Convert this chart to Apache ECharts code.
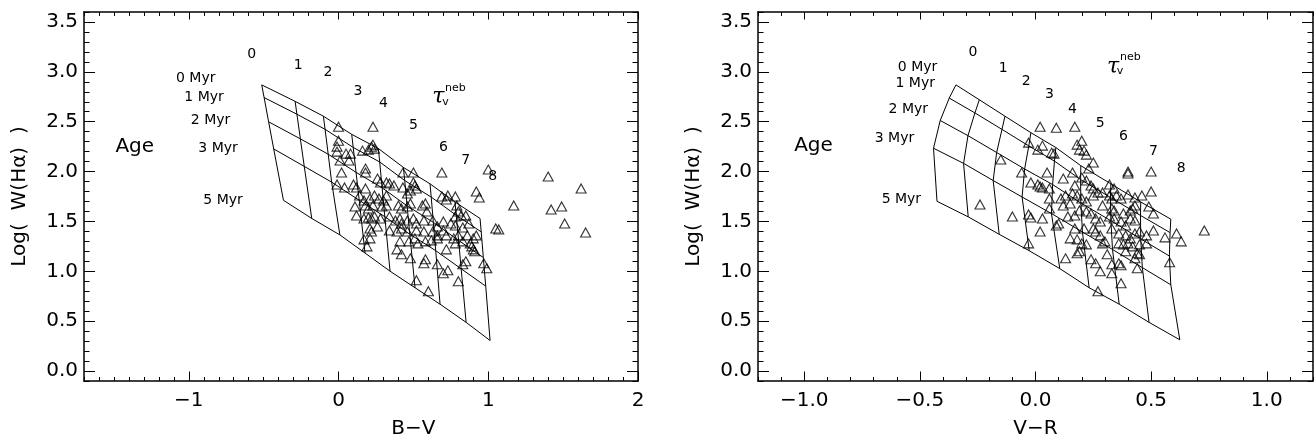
<!DOCTYPE html>
<html><head><meta charset="utf-8">
<script src="https://cdn.jsdelivr.net/npm/echarts@6/dist/echarts.min.js"></script>
<style>html,body{margin:0;padding:0;background:#fff}#c{width:1314px;height:444px}</style>
</head><body><div id="c"></div>
<script>
// ---------------- data ----------------
const bvTickLabels = ['\u22121', '0', '1', '2'];
const vrTickLabels = ['\u22121.0', '\u22120.5', '0.0', '0.5', '1.0'];
const yTickLabels = ['0.0', '0.5', '1.0', '1.5', '2.0', '2.5', '3.0', '3.5'];

// observed points, left panel (B-V, log W(Ha))
const bvPoints = [
[0.00,2.45],[0.23,2.45],[0.00,2.31],[-0.01,2.25],[-0.01,2.20],[0.23,2.27],[0.22,2.25],[0.20,2.22],[0.24,2.23],[0.05,2.18],[0.08,2.18],[0.16,2.21],[0.01,2.11],[0.07,2.11],[0.02,1.99],[0.18,2.03],[0.18,1.99],[0.43,1.99],[0.50,1.99],[0.69,1.99],[1.00,2.02],
[-0.01,1.87],[0.04,1.84],[0.10,1.87],[0.12,1.84],[0.18,1.83],[0.26,1.93],[0.28,1.89],[0.32,1.89],[0.34,1.88],[0.37,1.86],[0.43,1.84],[0.50,1.89],[0.51,1.86],[0.52,1.83],[0.48,1.81],[0.46,1.78],[0.69,1.75],[0.73,1.76],[0.78,1.75],[0.72,1.72],[0.92,1.80],[0.94,1.74],
[0.14,1.76],[0.17,1.71],[0.21,1.73],[0.24,1.76],[0.27,1.73],[0.30,1.71],[0.32,1.76],
[0.11,1.65],[0.18,1.66],[0.20,1.63],[0.23,1.66],[0.29,1.65],[0.32,1.66],[0.40,1.66],[0.42,1.63],[0.46,1.65],[0.48,1.68],[0.56,1.66],[0.58,1.68],[0.79,1.66],[0.80,1.60],[0.82,1.56],[0.78,1.55],[0.85,1.56],
[0.12,1.56],[0.17,1.53],[0.20,1.54],[0.22,1.53],[0.24,1.55],[0.28,1.53],[0.34,1.55],[0.38,1.51],[0.41,1.53],[0.42,1.48],[0.46,1.51],[0.50,1.53],[0.52,1.48],[0.57,1.51],[0.59,1.60],[0.63,1.51],[0.66,1.45],[0.70,1.50],[0.75,1.48],[0.78,1.46],[0.83,1.44],[0.87,1.48],
[0.22,1.40],[0.21,1.43],[0.26,1.45],[0.34,1.41],[0.39,1.40],[0.42,1.43],[0.46,1.40],[0.52,1.41],[0.57,1.40],[0.63,1.40],[0.66,1.36],[0.70,1.41],[0.72,1.36],[0.77,1.33],[0.80,1.36],[0.86,1.36],[0.90,1.33],[0.92,1.36],[1.05,1.43],[1.07,1.42],
[0.17,1.32],[0.21,1.33],[0.19,1.25],[0.41,1.30],[0.47,1.30],[0.51,1.33],[0.53,1.28],[0.58,1.30],[0.62,1.31],[0.66,1.33],[0.78,1.28],[0.83,1.30],[0.88,1.28],[0.89,1.25],[0.90,1.22],[0.91,1.20],
[0.39,1.22],[0.42,1.17],[0.48,1.13],[0.58,1.12],[0.57,1.08],[0.72,1.22],[0.66,1.07],[0.70,0.98],[0.73,1.01],[0.85,1.10],[0.83,1.07],[0.97,1.08],[0.99,1.03],[0.52,0.91],[0.60,0.80],[0.80,0.90],
[1.17,1.66],[1.40,1.95],[1.42,1.62],[1.49,1.65],[1.51,1.48],[1.62,1.83],[1.65,1.39]
];

// observed points, right panel (V-R, log W(Ha))
const vrPoints = [
[0.02,2.45],[0.09,2.44],[-0.03,2.29],[0.01,2.22],[0.03,2.26],[0.07,2.19],[0.08,2.18],[-0.15,2.12],[-0.06,1.99],[0.05,1.99],[-0.02,1.89],[0.01,1.87],[0.02,1.85],[0.03,1.84],[0.06,1.83],[0.06,1.73],[-0.24,1.67],[-0.10,1.55],[-0.03,1.57],[-0.02,1.54],[0.03,1.53],[0.06,1.63],[0.10,1.48],[0.09,1.46],[0.02,1.40],[-0.03,1.28],
[0.17,2.45],[0.20,2.31],[0.18,2.27],[0.19,2.22],[0.21,2.21],[0.22,2.17],[0.25,2.09],[0.23,2.03],[0.16,1.99],[0.12,1.93],[0.40,2.00],[0.40,1.98],[0.50,2.00],
[0.17,1.86],[0.20,1.94],[0.22,1.91],[0.24,1.86],[0.25,1.83],[0.27,1.79],[0.32,1.87],[0.34,1.83],
[0.16,1.78],[0.13,1.76],[0.11,1.73],[0.12,1.66],[0.15,1.68],[0.18,1.76],[0.20,1.73],[0.22,1.70],
[0.25,1.76],[0.29,1.79],[0.32,1.76],[0.33,1.73],[0.35,1.76],[0.37,1.73],[0.40,1.77],[0.43,1.74],[0.46,1.76],[0.50,1.80],
[0.29,1.66],[0.33,1.63],[0.34,1.61],[0.38,1.58],[0.41,1.61],[0.42,1.63],[0.43,1.66],[0.49,1.65],[0.51,1.58],
[0.14,1.55],[0.17,1.56],[0.19,1.61],[0.22,1.60],[0.24,1.58],[0.26,1.53],[0.28,1.50],
[0.32,1.55],[0.34,1.53],[0.37,1.50],[0.39,1.46],[0.41,1.53],[0.43,1.51],
[0.17,1.43],[0.21,1.43],[0.25,1.43],[0.26,1.40],[0.28,1.36],[0.30,1.30],
[0.33,1.43],[0.36,1.38],[0.39,1.36],[0.41,1.33],[0.43,1.38],[0.45,1.40],[0.48,1.36],[0.51,1.41],
[0.15,1.33],[0.18,1.32],[0.20,1.28],[0.22,1.27],[0.19,1.20],[0.18,1.18],
[0.29,1.28],[0.36,1.28],[0.38,1.27],[0.40,1.28],[0.42,1.25],[0.45,1.27],[0.48,1.28],
[0.39,1.20],[0.44,1.18],[0.45,1.17],
[0.56,1.34],[0.61,1.38],[0.63,1.30],[0.73,1.41],
[0.13,1.13],[0.24,1.12],[0.26,1.08],[0.28,1.00],[0.31,1.17],[0.33,1.07],[0.36,1.08],[0.37,1.06],[0.33,0.98],[0.44,1.03],[0.43,1.13],[0.37,0.88],[0.27,0.80],[0.58,1.09]
];

// model grid, left panel: one line per age, points for tau_v^neb = 0..8
const bvAge0Myr = [[-0.513,2.869],[-0.290,2.704],[-0.101,2.555],[0.088,2.373],[0.266,2.231],[0.433,2.042],[0.611,1.877],[0.778,1.695],[0.945,1.530]];
const bvAge1Myr = [[-0.497,2.742],[-0.278,2.575],[-0.090,2.424],[0.098,2.242],[0.275,2.096],[0.442,1.910],[0.619,1.744],[0.786,1.562],[0.953,1.395]];
const bvAge2Myr = [[-0.467,2.499],[-0.255,2.328],[-0.069,2.174],[0.117,1.992],[0.291,1.837],[0.458,1.656],[0.633,1.491],[0.802,1.309],[0.967,1.138]];
const bvAge3Myr = [[-0.433,2.227],[-0.229,2.052],[-0.046,1.894],[0.138,1.712],[0.309,1.548],[0.476,1.372],[0.649,1.207],[0.819,1.025],[0.983,0.851]];
const bvAge5Myr = [[-0.368,1.712],[-0.179,1.530],[0.009,1.365],[0.177,1.183],[0.344,1.001],[0.511,0.835],[0.678,0.670],[0.852,0.488],[1.012,0.306]];

// model grid, right panel
const vrAge0Myr = [[-0.344,2.869],[-0.243,2.720],[-0.132,2.555],[-0.020,2.390],[0.088,2.241],[0.196,2.059],[0.326,1.877],[0.455,1.695],[0.585,1.523]];
const vrAge1Myr = [[-0.373,2.737],[-0.262,2.588],[-0.145,2.423],[-0.029,2.257],[0.082,2.105],[0.195,1.920],[0.324,1.741],[0.454,1.560],[0.582,1.388]];
const vrAge2Myr = [[-0.412,2.512],[-0.292,2.360],[-0.168,2.191],[-0.047,2.026],[0.074,1.870],[0.196,1.685],[0.326,1.507],[0.455,1.325],[0.579,1.153]];
const vrAge3Myr = [[-0.441,2.234],[-0.311,2.082],[-0.183,1.910],[-0.058,1.745],[0.069,1.579],[0.203,1.394],[0.333,1.219],[0.462,1.037],[0.585,0.865]];
const vrAge5Myr = [[-0.426,1.702],[-0.291,1.546],[-0.157,1.371],[-0.027,1.206],[0.105,1.027],[0.232,0.835],[0.362,0.670],[0.491,0.488],[0.624,0.313]];

// annotation texts [text, x, y]
const bvTauLabels = [['0',-0.58,3.18],['1',-0.27,3.06],['2',-0.07,2.99],['3',0.13,2.80],['4',0.30,2.68],['5',0.50,2.46],['6',0.70,2.24],['7',0.85,2.11],['8',1.03,1.95]];
const bvAgeLabels = [['0 Myr',-0.954,2.93],['1 Myr',-0.898,2.74],['2 Myr',-0.855,2.51],['3 Myr',-0.805,2.23],['5 Myr',-0.771,1.71]];
const bvAgeTitle = [['Age',-1.361,2.25]];
const bvTauSymbol = [['\u03C4',0.667,2.74]];
const bvTauSub = [['v',0.714,2.70]];
const bvTauSup = [['neb',0.78,2.84]];

const vrTauLabels = [['0',-0.27,3.20],['1',-0.14,3.03],['2',-0.04,2.90],['3',0.06,2.77],['4',0.16,2.62],['5',0.28,2.48],['6',0.38,2.35],['7',0.51,2.20],['8',0.63,2.03]];
const vrAgeLabels = [['0 Myr',-0.51,3.04],['1 Myr',-0.52,2.88],['2 Myr',-0.55,2.62],['3 Myr',-0.61,2.33],['5 Myr',-0.58,1.72]];
const vrAgeTitle = [['Age',-0.96,2.26]];
const vrTauSymbol = [['\u03C4',0.335,3.05]];
const vrTauSub = [['v',0.365,3.01]];
const vrTauSup = [['neb',0.41,3.15]];

// ---------------- layout ----------------
const FONT = 'DejaVu Sans';
const FR = {top: 12, height: 369};
const YR = {min: -0.1, max: 3.6, majMin: 0, majMax: 3.5, majInt: 0.5};
const P1 = {left: 84, width: 554, xmin: -1.7, xmax: 2, majMin: -1, majMax: 2, majInt: 1, name: 'B\u2212V',
  labels: bvTickLabels, points: bvPoints, ages: [bvAge0Myr, bvAge1Myr, bvAge2Myr, bvAge3Myr, bvAge5Myr],
  tau: bvTauLabels, ageLab: bvAgeLabels, ageTitle: bvAgeTitle, tauSym: bvTauSymbol, tauSub: bvTauSub, tauSup: bvTauSup};
const P2 = {left: 758, width: 555, xmin: -1.2, xmax: 1.2, majMin: -1, majMax: 1, majInt: 0.5, name: 'V\u2212R',
  labels: vrTickLabels, points: vrPoints, ages: [vrAge0Myr, vrAge1Myr, vrAge2Myr, vrAge3Myr, vrAge5Myr],
  tau: vrTauLabels, ageLab: vrAgeLabels, ageTitle: vrAgeTitle, tauSym: vrTauSymbol, tauSub: vrTauSub, tauSup: vrTauSup};

const grids = [], xAxes = [], yAxes = [], series = [];

function textSeries(xi, yi, arr, style) {
  return {type: 'scatter', xAxisIndex: xi, yAxisIndex: yi, silent: true, symbolSize: 1,
    itemStyle: {color: 'rgba(0,0,0,0)'},
    data: arr.map(a => ({name: a[0], value: [a[1], a[2]]})),
    label: Object.assign({show: true, position: ['50%', '50%'], align: 'center', verticalAlign: 'middle',
      formatter: '{b}', color: '#000', opacity: 1, textBorderWidth: 0, fontFamily: FONT}, style),
    emphasis: {disabled: true}, z: 5};
}

function buildPanel(P) {
  const g0 = grids.length, xi0 = xAxes.length, yi0 = yAxes.length;
  const pxX = P.width / (P.xmax - P.xmin);
  const pxY = FR.height / (YR.max - YR.min);
  grids.push({left: P.left, top: FR.top, width: P.width, height: FR.height});
  grids.push({left: P.left + (P.majMin - P.xmin) * pxX, top: FR.top, width: (P.majMax - P.majMin) * pxX, height: FR.height});
  grids.push({left: P.left, top: FR.top + (YR.max - YR.majMax) * pxY, width: P.width, height: (YR.majMax - YR.majMin) * pxY});
  const axLine = {show: true, onZero: false, lineStyle: {color: '#000', width: 1.5}};
  const noLine = {show: false, onZero: false};
  const tick = len => ({show: true, inside: true, length: len, lineStyle: {color: '#000', width: 1}});
  const noSplit = {show: false};
  const lab = {show: false};
  const minorX = pos => ({gridIndex: g0, type: 'value', position: pos, min: P.xmin, max: P.xmax, interval: 0.1,
    axisLine: axLine, axisTick: tick(4), axisLabel: lab, splitLine: noSplit});
  xAxes.push(minorX('bottom'), minorX('top'));
  xAxes.push({gridIndex: g0 + 1, type: 'value', position: 'bottom', min: P.majMin, max: P.majMax, interval: P.majInt,
    axisLine: noLine, axisTick: tick(7.5), splitLine: noSplit,
    axisLabel: {show: true, margin: 12, fontSize: 20, fontFamily: FONT, color: '#000',
      formatter: v => P.labels[Math.round((v - P.majMin) / P.majInt)]},
    name: P.name, nameLocation: 'middle', nameGap: 40,
    nameTextStyle: {fontSize: 20, fontFamily: FONT, color: '#000'}});
  xAxes.push({gridIndex: g0 + 1, type: 'value', position: 'top', min: P.majMin, max: P.majMax, interval: P.majInt,
    axisLine: noLine, axisTick: tick(7.5), axisLabel: lab, splitLine: noSplit});
  xAxes.push({gridIndex: g0 + 2, type: 'value', show: false, min: P.xmin, max: P.xmax});

  const minorY = pos => ({gridIndex: g0, type: 'value', position: pos, min: YR.min, max: YR.max, interval: 0.1,
    axisLine: axLine, axisTick: tick(5.5), axisLabel: lab, splitLine: noSplit});
  yAxes.push(minorY('left'), minorY('right'));
  yAxes.push({gridIndex: g0 + 1, type: 'value', show: false, min: YR.min, max: YR.max});
  yAxes.push({gridIndex: g0 + 2, type: 'value', position: 'left', min: YR.majMin, max: YR.majMax, interval: YR.majInt,
    axisLine: noLine, axisTick: tick(11), splitLine: noSplit,
    axisLabel: {show: true, margin: 6, fontSize: 20, fontFamily: FONT, color: '#000',
      formatter: v => yTickLabels[Math.round((v - YR.majMin) / YR.majInt)]},
    name: 'Log(  W(H\u03B1)  )', nameLocation: 'middle', nameGap: 54, nameRotate: 90,
    nameTextStyle: {fontSize: 20, fontFamily: FONT, color: '#000'}});
  yAxes.push({gridIndex: g0 + 2, type: 'value', position: 'right', min: YR.majMin, max: YR.majMax, interval: YR.majInt,
    axisLine: noLine, axisTick: tick(11), axisLabel: lab, splitLine: noSplit});

  const ls = {color: '#000', width: 1};
  P.ages.forEach(a => series.push({type: 'line', xAxisIndex: xi0, yAxisIndex: yi0, data: a, symbol: 'none',
    lineStyle: ls, silent: true, z: 2}));
  for (let t = 0; t < P.ages[0].length; t++) {
    series.push({type: 'line', xAxisIndex: xi0, yAxisIndex: yi0, data: P.ages.map(a => a[t]), symbol: 'none',
      lineStyle: ls, silent: true, z: 2});
  }
  series.push({type: 'scatter', xAxisIndex: xi0, yAxisIndex: yi0, data: P.points, symbol: 'triangle',
    symbolSize: [10, 9], silent: true, z: 3,
    itemStyle: {color: 'rgba(0,0,0,0)', borderColor: '#000', borderWidth: 1.1}});
  series.push(textSeries(xi0, yi0, P.tau, {fontSize: 14}));
  series.push(textSeries(xi0, yi0, P.ageLab, {fontSize: 14}));
  series.push(textSeries(xi0, yi0, P.ageTitle, {fontSize: 20}));
  series.push(textSeries(xi0, yi0, P.tauSym, {fontSize: 22, fontStyle: 'italic', fontFamily: 'DejaVu Serif'}));
  series.push(textSeries(xi0, yi0, P.tauSub, {fontSize: 11}));
  series.push(textSeries(xi0, yi0, P.tauSup, {fontSize: 11}));
}

buildPanel(P1);
buildPanel(P2);

const chart = echarts.init(document.getElementById('c'), null, {renderer: 'canvas'});
chart.setOption({
  animation: false,
  backgroundColor: '#fff',
  grid: grids,
  xAxis: xAxes,
  yAxis: yAxes,
  series: series
});
</script>
</body></html>
